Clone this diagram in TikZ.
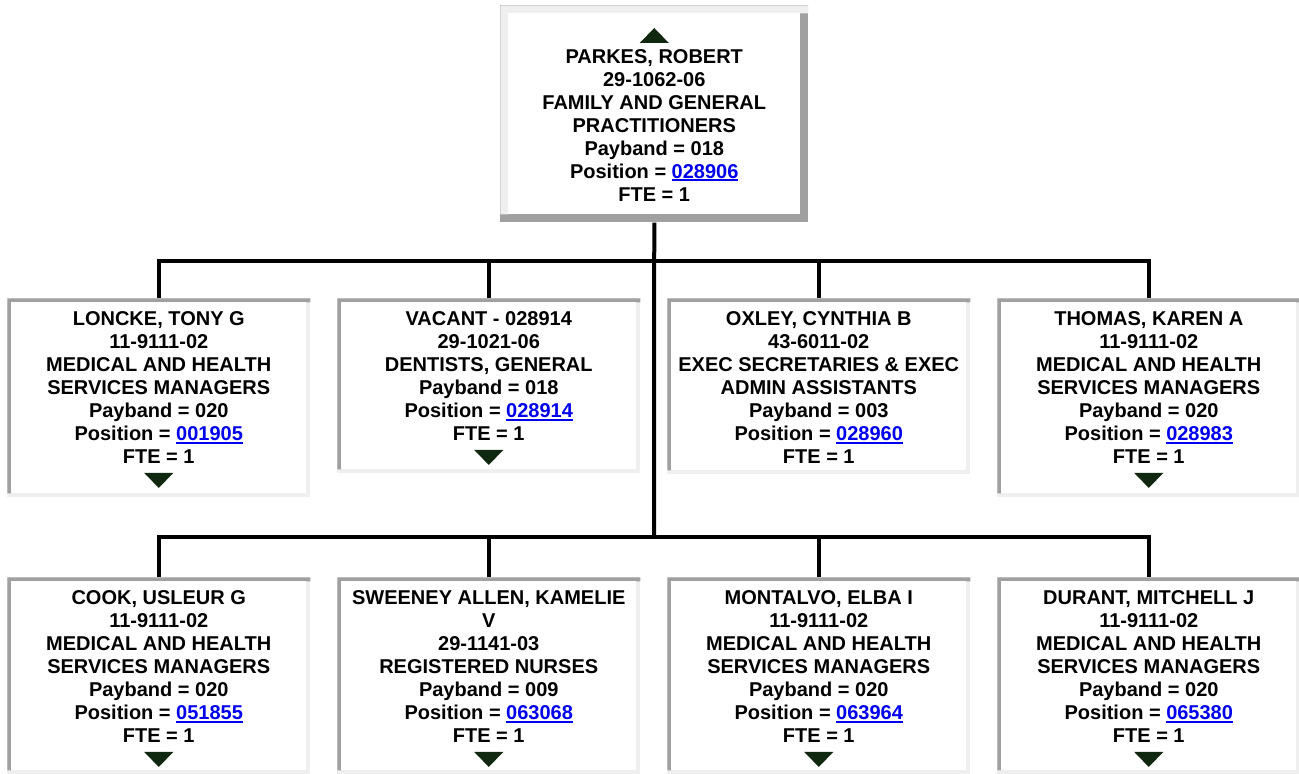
\documentclass[tikz,border=0pt]{standalone}
\usepackage{fontspec}
\setmainfont{Liberation Sans}
\usepackage{tikz}
\usetikzlibrary{positioning}
\usepackage{xcolor}
\definecolor{bevlight}{HTML}{EFEFEF}
\definecolor{bevdark}{HTML}{A0A0A0}
\definecolor{lnk}{HTML}{0000EE}
\definecolor{trigreen}{HTML}{102810}
\newcommand{\poslink}[1]{{\color{lnk}\setbox0\hbox{#1}\rlap{\rule[-2.4pt]{\wd0}{1.5pt}}\box0}}

\begin{document}
\begin{tikzpicture}[
    x=0.75pt, y=-0.75pt,
    every node/.style={font=\fontsize{15}{17.25}\selectfont\bfseries},
    bevel/.style n args={3}{fill=#2, path picture={
        \fill[#1] (path picture bounding box.north west) -- (path picture bounding box.north east)
            -- ([yshift=-#3]path picture bounding box.north east)
            -- ([xshift=#3,yshift=-#3]path picture bounding box.north west)
            -- ([xshift=#3,yshift=#3]path picture bounding box.south west)
            -- ([yshift=#3]path picture bounding box.south west) -- cycle;
        \fill[white] ([xshift=#3,yshift=-#3]path picture bounding box.north west)
            rectangle ([xshift=-#3,yshift=#3]path picture bounding box.south east);}},
    boss/.style={bevel={bevlight}{bevdark}{6pt}, minimum width=231pt, minimum height=162.75pt, anchor=north west, inner sep=0pt},
    staff/.style={bevel={bevdark}{bevlight}{3pt}, minimum width=227.25pt, anchor=north west, inner sep=0pt},
    txt/.style={align=center, inner sep=0pt},
    conn/.style={line width=3pt},
    tri/.style={fill=trigreen}
]
    \useasboundingbox (0,0) rectangle (1299,774);

    % ===== top =====
    \node[boss] (top) at (500,5) {};
    \node[txt, below=33pt of top.north] (topt) {PARKES, ROBERT\\29-1062-06\\FAMILY AND GENERAL\\PRACTITIONERS\\Payband = 018\\Position = \poslink{028906}\\FTE = 1};
    \fill[tri] ([xshift=-10.9pt,yshift=4.5pt]topt.north) -- ([xshift=10.9pt,yshift=4.5pt]topt.north) -- ([yshift=15.75pt]topt.north) -- cycle;

    % ===== first row =====
    \node[staff, minimum height=149.25pt] (a1) at (7,298) {};
    \node[staff, minimum height=131.25pt] (a2) at (337,298) {};
    \node[staff, minimum height=132pt] (a3) at (667,298) {};
    \node[staff, minimum height=149.25pt] (a4) at (997,298) {};
    \node[txt, below=10.1pt of a1.north] (a1t) {LONCKE, TONY G\\11-9111-02\\MEDICAL AND HEALTH\\SERVICES MANAGERS\\Payband = 020\\Position = \poslink{001905}\\FTE = 1};
    \node[txt, below=10.1pt of a2.north] (a2t) {VACANT - 028914\\29-1021-06\\DENTISTS, GENERAL\\Payband = 018\\Position = \poslink{028914}\\FTE = 1};
    \node[txt, below=10.1pt of a3.north] (a3t) {OXLEY, CYNTHIA B\\43-6011-02\\EXEC SECRETARIES \& EXEC\\ADMIN ASSISTANTS\\Payband = 003\\Position = \poslink{028960}\\FTE = 1};
    \node[txt, below=10.1pt of a4.north] (a4t) {THOMAS, KAREN A\\11-9111-02\\MEDICAL AND HEALTH\\SERVICES MANAGERS\\Payband = 020\\Position = \poslink{028983}\\FTE = 1};

    % ===== second row =====
    \node[staff, minimum height=147.75pt] (b1) at (7,577) {};
    \node[staff, minimum height=147.75pt] (b2) at (337,577) {};
    \node[staff, minimum height=147.75pt] (b3) at (667,577) {};
    \node[staff, minimum height=147.75pt] (b4) at (997,577) {};
    \node[txt, below=10.1pt of b1.north] (b1t) {COOK, USLEUR G\\11-9111-02\\MEDICAL AND HEALTH\\SERVICES MANAGERS\\Payband = 020\\Position = \poslink{051855}\\FTE = 1};
    \node[txt, below=10.1pt of b2.north] (b2t) {SWEENEY ALLEN, KAMELIE\\V\\29-1141-03\\REGISTERED NURSES\\Payband = 009\\Position = \poslink{063068}\\FTE = 1};
    \node[txt, below=10.1pt of b3.north] (b3t) {MONTALVO, ELBA I\\11-9111-02\\MEDICAL AND HEALTH\\SERVICES MANAGERS\\Payband = 020\\Position = \poslink{063964}\\FTE = 1};
    \node[txt, below=10.1pt of b4.north] (b4t) {DURANT, MITCHELL J\\11-9111-02\\MEDICAL AND HEALTH\\SERVICES MANAGERS\\Payband = 020\\Position = \poslink{065380}\\FTE = 1};

    \foreach \n in {a1t,a2t,a4t,b1t,b2t,b3t,b4t}
        \fill[tri] ([xshift=-10.9pt,yshift=-6.75pt]\n.south) -- ([xshift=10.9pt,yshift=-6.75pt]\n.south) -- ([yshift=-18pt]\n.south) -- cycle;

    % ===== lines =====
    \coordinate (j1) at (654,261);
    \coordinate (j2) at (654,537);
    \draw[conn] (top.south) -- (j2);
    \draw[conn] (a1.north) |- (j1) -| (a4.north);
    \draw[conn] (a2.north) -- (a2.north |- j1);
    \draw[conn] (a3.north) -- (a3.north |- j1);
    \draw[conn] (b1.north) |- (j2) -| (b4.north);
    \draw[conn] (b2.north) -- (b2.north |- j2);
    \draw[conn] (b3.north) -- (b3.north |- j2);
\end{tikzpicture}
\end{document}
